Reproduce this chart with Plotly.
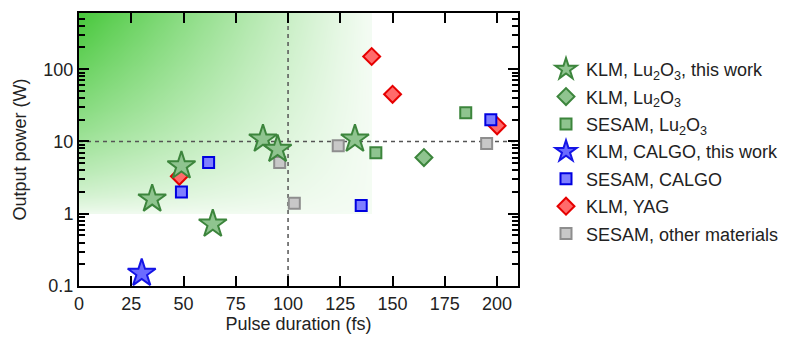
import numpy as np
import plotly.graph_objects as go

# ---------------- data ----------------
klm_lu_this_x = [35, 49, 64, 88, 95, 132]
klm_lu_this_y = [1.6, 4.6, 0.72, 10.8, 7.8, 10.8]

klm_lu_x = [165]
klm_lu_y = [6.0]

sesam_lu_x = [142, 185]
sesam_lu_y = [7.0, 25]

klm_calgo_this_x = [30]
klm_calgo_this_y = [0.15]

sesam_calgo_x = [49, 62, 135, 197]
sesam_calgo_y = [2.0, 5.1, 1.3, 20]

klm_yag_x = [48, 140, 150, 200]
klm_yag_y = [3.3, 150, 45, 16.5]

sesam_other_x = [96, 103, 124, 195]
sesam_other_y = [5.1, 1.4, 8.7, 9.4]

x_range = [0, 210]
y_range = [0.1, 600]
x_ticks = [0, 25, 50, 75, 100, 125, 150, 175, 200]
y_ticks = [0.1, 1, 10, 100]
y_tick_text = ["0.1", "1", "10", "100"]

ref_x = 100   # vertical dashed reference
ref_y = 10    # horizontal dashed reference
shade_x_max = 140  # green shaded region: x <= 140 fs
shade_y_min = 1    # and P >= 1 W

FONT = "Liberation Sans, Arial, sans-serif"

fig = go.Figure()

# ---------------- green gradient background (style) ----------------
ytop_log = np.log10(y_range[1])
gx = np.linspace(0, shade_x_max, 71)
gy_log = np.linspace(np.log10(shade_y_min), ytop_log, 71)
cx = 0.5 * (gx[:-1] + gx[1:])
cy = 0.5 * (gy_log[:-1] + gy_log[1:])
U, V = np.meshgrid(cx / shade_x_max, (ytop_log - cy) / (ytop_log - np.log10(shade_y_min)))
Z = 0.06 + 0.94 * (1 - U) ** 1.1 * (1 - V) ** 0.7
fig.add_trace(go.Heatmap(
    x=gx, y=10 ** gy_log, z=Z, zmin=0, zmax=1,
    colorscale=[[0, "#ffffff"], [1, "#48c83c"]],
    zsmooth="best", showscale=False, hoverinfo="skip", showlegend=False,
))

# ---------------- dashed reference lines ----------------
dash_line = dict(color="#555555", width=1.5, dash="4px,4px")
fig.add_trace(go.Scatter(x=[ref_x, ref_x], y=y_range, mode="lines", line=dash_line,
                         showlegend=False, hoverinfo="skip"))
fig.add_trace(go.Scatter(x=x_range, y=[ref_y, ref_y], mode="lines", line=dash_line,
                         showlegend=False, hoverinfo="skip"))

# ---------------- data markers ----------------
def add(x, y, name, symbol, size, fill, edge, rank):
    fig.add_trace(go.Scatter(
        x=x, y=y, name=name, mode="markers", legendrank=rank,
        legendgroup=name,
        marker=dict(symbol=symbol, size=size, color=fill,
                    line=dict(color=edge, width=2)),
    ))

add(klm_yag_x, klm_yag_y, "KLM, YAG", "diamond", 13, "#ff6b6b", "#e60000", 6)
add(sesam_other_x, sesam_other_y, "SESAM, other materials", "square", 11, "#c8c8c8", "#8e8e8e", 7)
add(sesam_lu_x, sesam_lu_y, "SESAM, Lu<sub>2</sub>O<sub>3</sub>", "square", 11, "#8fc48f", "#3c853c", 3)
add(klm_lu_x, klm_lu_y, "KLM, Lu<sub>2</sub>O<sub>3</sub>", "diamond", 13, "#8fc48f", "#3c853c", 2)
add(sesam_calgo_x, sesam_calgo_y, "SESAM, CALGO", "square", 11, "#7f7fff", "#0000e0", 5)
add(klm_calgo_this_x, klm_calgo_this_y, "KLM, CALGO, this work", "star", 21, "#6b6bff", "#1414e6", 4)
add(klm_lu_this_x, klm_lu_this_y, "KLM, Lu<sub>2</sub>O<sub>3</sub>, this work", "star", 21, "#8fc48f", "#3c853c", 1)

axis_common = dict(
    showline=True, linecolor="black", linewidth=2, mirror="ticks",
    ticks="inside", ticklen=10, tickwidth=2, tickcolor="black",
    showgrid=False, zeroline=False, automargin=False,
    tickfont=dict(family=FONT, size=18, color="#222222"),
    title_font=dict(family=FONT, size=18, color="#222222"),
)

fig.update_xaxes(
    range=x_range, tickvals=x_ticks,
    title_text="Pulse duration (fs)", title_standoff=4,
    **axis_common,
)
fig.update_yaxes(
    type="log", range=[np.log10(y_range[0]), np.log10(y_range[1])],
    tickvals=y_ticks, ticktext=y_tick_text,
    title_text="Output power (W)", title_standoff=12,
    minor=dict(ticks="inside", ticklen=6, tickwidth=1.5, tickcolor="black",
               dtick="D1", showgrid=False),
    **axis_common,
)

fig.update_layout(
    width=785, height=338,
    margin=dict(l=79, r=267, t=13, b=52),
    paper_bgcolor="white", plot_bgcolor="white",
    font=dict(family=FONT, size=18, color="#222222"),
    legend=dict(
        xref="container", yref="container",
        x=546 / 785, y=1 - 51 / 338, xanchor="left", yanchor="top",
        font=dict(family=FONT, size=18, color="#222222"),
        tracegroupgap=1, bgcolor="rgba(0,0,0,0)", maxheight=285,
    ),
    showlegend=True,
)

fig.write_html("out.html")
